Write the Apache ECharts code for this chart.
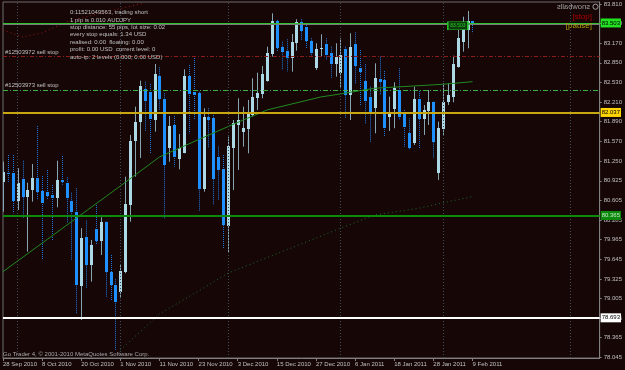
<!DOCTYPE html>
<html><head><meta charset="utf-8">
<script src="https://cdn.jsdelivr.net/npm/echarts@6/dist/echarts.min.js"></script>
<style>html,body{margin:0;padding:0;background:#160606;}#c{width:625px;height:370px;}</style>
</head><body><div id="c"></div>
<script>
// ---- data ----
const tickLabels = ["28 Sep 2010","8 Oct 2010","20 Oct 2010","1 Nov 2010","11 Nov 2010","23 Nov 2010","3 Dec 2010","15 Dec 2010","27 Dec 2010","6 Jan 2011","18 Jan 2011","28 Jan 2011","9 Feb 2011"];
const priceTicks = ["83.810","83.490","83.170","82.850","82.530","82.210","81.890","81.570","81.250","80.925","80.605","80.285","79.965","79.645","79.325","79.005","78.685","78.365","78.045"];
const opens = [80.911,81.058,81.048,80.601,80.955,80.666,80.776,80.966,80.759,80.738,
 80.694,80.650,80.939,80.895,80.596,80.412,79.214,80.004,79.552,80.134,
 79.944,80.249,79.433,79.226,79.107,79.433,80.531,81.580,81.890,82.418,
 82.374,81.917,82.640,82.260,81.456,81.836,81.276,81.384,82.635,82.379,
 82.353,80.792,81.961,81.945,81.319,81.113,80.188,81.456,81.836,81.727,
 81.766,81.999,82.271,82.342,82.559,82.989,83.532,83.113,83.048,82.924,
 83.169,83.521,83.430,83.206,82.761,83.076,83.152,83.006,82.826,82.689,
 83.071,82.325,83.152,82.761,82.554,82.298,82.118,82.586,82.570,81.961,
 82.092,82.407,82.027,81.710,81.537,82.260,81.934,82.064,82.206,81.048,
 81.771,82.216,82.298,82.787,83.195,83.386,83.532];
const closes = [81.074,81.037,80.601,80.885,80.666,80.776,80.966,80.748,80.568,80.683,
 80.650,80.939,80.911,80.650,80.412,79.226,79.997,79.552,79.878,79.944,
 80.249,79.433,79.226,78.953,79.454,80.547,81.580,81.890,82.472,82.227,
 81.934,82.668,82.255,81.183,81.820,81.309,81.466,82.640,82.342,82.325,
 80.792,81.971,81.917,80.955,81.102,80.205,81.493,81.864,81.917,81.782,
 82.027,82.298,82.363,82.668,83.015,83.532,83.087,83.032,82.924,83.185,
 83.511,83.374,83.211,83.015,83.071,83.097,82.978,82.826,82.940,82.978,
 82.325,83.113,82.798,82.696,82.227,82.053,82.598,82.532,81.782,82.053,
 82.444,81.961,81.808,81.466,82.255,81.934,82.081,82.206,81.554,81.782,
 82.206,82.325,82.826,83.250,83.456,83.532,83.467];
const highs = [81.237,81.346,81.346,81.130,81.253,80.895,81.200,81.820,81.004,81.102,
 80.857,81.253,81.330,80.983,80.731,80.803,80.151,80.275,79.960,80.531,
 80.330,80.258,79.715,79.319,79.552,80.992,81.673,82.134,82.559,82.542,
 82.505,82.831,82.777,82.353,81.983,81.983,81.689,82.744,82.815,82.961,
 82.379,82.108,82.108,82.027,81.482,81.346,81.645,81.917,82.271,82.134,
 82.244,82.598,82.689,82.798,83.113,83.658,83.549,83.195,83.234,83.320,
 83.560,83.560,83.467,83.250,83.169,83.315,83.250,83.113,83.169,83.250,
 83.113,83.332,83.348,83.059,82.826,82.461,82.842,82.950,82.717,82.298,
 82.532,82.761,82.081,81.945,82.461,82.391,82.162,82.407,82.216,81.890,
 82.516,82.516,82.966,83.386,83.603,83.696,83.532];
const lows = [80.422,80.911,80.395,80.449,80.314,79.769,80.585,80.612,79.634,80.612,
 79.960,80.493,80.860,80.232,79.634,78.764,78.655,79.172,79.280,79.878,
 79.715,79.035,78.981,78.165,79.009,79.417,80.258,80.992,81.298,81.727,
 81.379,81.727,82.081,80.314,81.237,81.156,81.113,81.374,81.700,81.917,
 80.422,80.748,81.456,80.531,80.612,79.829,79.748,80.776,81.102,81.482,
 81.374,81.971,82.081,82.271,82.542,82.950,83.032,82.733,82.705,82.705,
 83.048,83.222,83.087,82.950,82.733,82.950,82.896,82.607,82.624,82.435,
 81.945,81.917,82.516,82.162,81.847,81.554,81.700,82.325,81.645,81.738,
 81.782,81.917,81.482,81.428,81.510,81.456,81.673,81.836,81.293,80.939,
 81.673,82.162,82.206,82.771,83.032,83.087,83.332];
const maFastBars = [0,12,24,32,40,47,54,65,69,76,84,90,96];
const maFastVals = [79.443,80.141,80.841,81.314,81.598,81.844,82.081,82.293,82.342,82.435,82.472,82.500,82.542];
const maSlowBars = [24,32,40,46,69,76,85,90,96];
const maSlowVals = [78.166,78.753,79.128,79.417,80.151,80.368,80.477,80.568,80.666];
const maRedBars = [0,4,8,13,20,29];
const maRedVals = [83.386,83.271,83.337,83.516,83.663,83.826];
const separatorBars = [3,24,46,69,90,116];
const totalBars = 123;
const bidPrice = 83.478;
const stopLevel1 = 82.957, stopLevel2 = 82.407;
const targetLevel = 83.503, yellowLevel = 82.037, greenLevel = 80.365, whiteLevel = 78.693;
const infoLines = [
  "0:11521049563, trading short",
  "1 pip is 0.010 AUDJPY",
  "stop distance: 55 pips, lot size: 0.02",
  "every stop equals: 1.34 USD",
  "realised: 0.00  floating: 0.00",
  "profit: 0.00 USD  current level: 0",
  "auto-tp: 2 levels (0.000; 0.00 USD)"
];

// ---- chart ----
const FONT = 'Liberation Sans';
const cats = Array.from({length: totalBars}, (_, i) => String(i));
const candleData = opens.map((o, i) => [i, o, closes[i], lows[i], highs[i]]);
const priceTickVals = priceTicks.map(Number);
const isLabelBar = (i) => i % 8 === 0 && i / 8 < tickLabels.length;

function renderCandle(params, api) {
  const k = api.value(0), o = api.value(1), c = api.value(2), l = api.value(3), h = api.value(4);
  const pO = api.coord([k, o]), pC = api.coord([k, c]), pL = api.coord([k, l]), pH = api.coord([k, h]);
  const cx = Math.round(pO[0]);
  const up = c >= o;
  let top = Math.round(Math.min(pO[1], pC[1])), bot = Math.round(Math.max(pO[1], pC[1]));
  if (bot - top < 1) bot = top + 1;
  return {type: 'group', children: [
    {type: 'line', shape: {x1: cx + 0.5, y1: pH[1], x2: cx + 0.5, y2: pL[1]},
     style: {stroke: up ? '#86a4b2' : '#1f78e0', lineWidth: 1, lineDash: up ? null : [1, 1]}},
    {type: 'rect', shape: {x: cx - 1, y: top, width: 3, height: bot - top},
     style: {fill: up ? '#add8e6' : '#1e90ff'}}
  ]};
}

function boxLabel(text, bg, fg) {
  return {show: true, position: 'end', formatter: text, backgroundColor: bg, color: fg,
    fontSize: 6, fontFamily: FONT, padding: [1, 1, 1, 1], distance: 1, lineHeight: 7};
}

const chart = echarts.init(document.getElementById('c'), null, {renderer: 'canvas'});
chart.setOption({
  animation: false,
  backgroundColor: '#160606',
  grid: {left: 2, right: 23, top: 2, bottom: 12, show: true, borderColor: '#6e6e6e', borderWidth: 1},
  xAxis: {
    type: 'category', data: cats, boundaryGap: false,
    axisLine: {show: true, lineStyle: {color: '#808080'}},
    axisTick: {show: true, interval: (i) => isLabelBar(i), length: 3, lineStyle: {color: '#808080'}},
    axisLabel: {show: true, interval: (i) => isLabelBar(i),
      formatter: (v, i) => isLabelBar(Number(v)) ? tickLabels[Number(v) / 8] : '',
      align: 'left', margin: 3, color: '#c0c0c0', fontSize: 6, fontFamily: FONT},
    splitLine: {show: false}
  },
  yAxis: {
    type: 'value', position: 'right', min: 78.0345, max: 83.842,
    axisLine: {show: true, lineStyle: {color: '#808080'}},
    axisTick: {show: true, customValues: priceTickVals, length: 2, lineStyle: {color: '#808080'}},
    axisLabel: {customValues: priceTickVals, formatter: (v) => Number(v).toFixed(3),
      color: '#c0c0c0', fontSize: 6, margin: 4, fontFamily: FONT},
    splitLine: {show: false}
  },
  series: [
    {type: 'line', data: [], z: 1, silent: true,
     markLine: {silent: true, symbol: ['none', 'none'], animation: false, label: {show: false},
       lineStyle: {color: '#3e4c5a', type: [1, 2], width: 1},
       data: separatorBars.map(b => ({xAxis: b}))}},
    {type: 'custom', name: 'AUDJPY', data: candleData, renderItem: renderCandle, clip: true, z: 2,
     encode: {x: 0, y: [1, 2, 3, 4]}},
    {type: 'line', data: maFastBars.map((b, i) => [b, maFastVals[i]]), showSymbol: false, z: 3,
     lineStyle: {color: '#1f8a1f', width: 1}},
    {type: 'line', data: maSlowBars.map((b, i) => [b, maSlowVals[i]]), showSymbol: false, z: 3,
     lineStyle: {color: '#1a6a30', width: 1, type: [1, 3]}},
    {type: 'line', data: maRedBars.map((b, i) => [b, maRedVals[i]]), showSymbol: false, z: 3,
     lineStyle: {color: '#9a1818', width: 1, type: [1, 3]}},
    {type: 'line', data: [], z: 5, silent: true,
     markLine: {silent: true, symbol: ['none', 'none'], animation: false,
       data: [
         {yAxis: bidPrice, lineStyle: {color: '#7a7a7a', width: 1, type: 'solid'}, label: {show: false}},
         {yAxis: targetLevel, lineStyle: {color: '#2fbf2f', width: 1, type: 'solid'},
          label: boxLabel(targetLevel.toFixed(3), '#22e022', '#000000')},
         {yAxis: stopLevel1, lineStyle: {color: '#8b1c1c', width: 1, type: [4, 2, 1, 2]},
          label: {show: true, position: 'insideStartTop', formatter: '#12503972 sell stop', color: '#c0c0c0',
            fontSize: 6, fontFamily: FONT, distance: [2, 1]}},
         {yAxis: stopLevel2, lineStyle: {color: '#3cb043', width: 1, type: [5, 2, 1, 2]},
          label: {show: true, position: 'insideStartTop', formatter: '#12503973 sell stop', color: '#c0c0c0',
            fontSize: 6, fontFamily: FONT, distance: [2, 1]}},
         {yAxis: yellowLevel, lineStyle: {color: '#c8a812', width: 2, type: 'solid'},
          label: boxLabel(yellowLevel.toFixed(3), '#ffd400', '#000000')},
         {yAxis: greenLevel, lineStyle: {color: '#0d8a0d', width: 2, type: 'solid'},
          label: boxLabel(greenLevel.toFixed(3), '#0b8a0b', '#c8e8c8')},
         {yAxis: whiteLevel, lineStyle: {color: '#ffffff', width: 2, type: 'solid'},
          label: boxLabel(whiteLevel.toFixed(3), '#ffffff', '#000000')}
       ]},
     markPoint: {silent: true, animation: false,
       data: [{coord: [93, 83.454], symbol: 'rect', symbolSize: [20, 8],
         itemStyle: {color: '#0c3a0c', borderColor: '#22c022', borderWidth: 1},
         label: {show: true, position: 'inside', formatter: targetLevel.toFixed(3), color: '#22d022', fontSize: 5, fontFamily: FONT}}]}}
  ],
  graphic: [
    ...infoLines.map((t, k) => ({type: 'text', x: 70, y: 12.7 + k * 7.38, z: 10,
      style: {text: t, fill: '#c0c0c0', font: '6px "Liberation Sans"', textVerticalAlign: 'middle', textAlign: 'left'}})),
    {type: 'text', x: 3, y: 354, z: 10,
     style: {text: 'Go Trader 4, \u00a9 2001-2010 MetaQuotes Software Corp.', fill: '#a8a8a8', font: '6px "Liberation Sans"', textVerticalAlign: 'middle'}},
    {type: 'text', x: 573.5, y: 7, scaleX: -1, originX: 0, originY: 0, z: 10,
     style: {text: 'snowballs', fill: '#a0a0a0', font: '7.5px "Liberation Sans"', textAlign: 'center', textVerticalAlign: 'middle'}},
    {type: 'circle', shape: {cx: 595.5, cy: 6.7, r: 2.6}, z: 10, style: {fill: 'none', stroke: '#a0a0a0', lineWidth: 1}},
    {type: 'text', x: 592, y: 16.7, z: 10,
     style: {text: '[stop]', fill: '#b00000', font: '8px "Liberation Sans"', textAlign: 'right', textVerticalAlign: 'middle'}},
    {type: 'text', x: 592, y: 25.7, z: 10,
     style: {text: '[pause]', fill: '#b0a000', font: '8px "Liberation Sans"', textAlign: 'right', textVerticalAlign: 'middle'}}
  ]
});
</script></body></html>
